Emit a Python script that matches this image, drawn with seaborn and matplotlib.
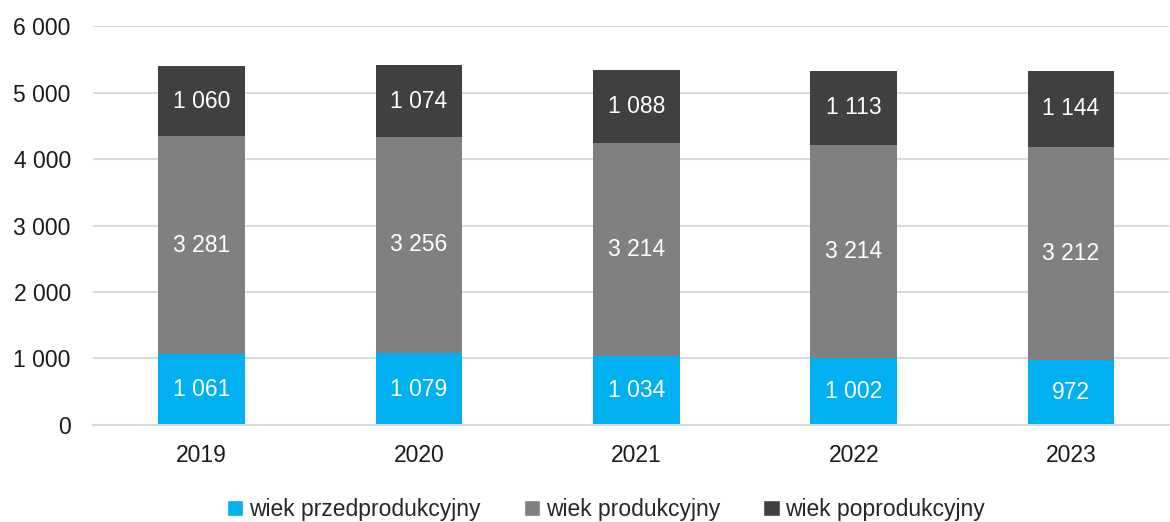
import numpy as np
import pandas as pd
import seaborn as sns
import matplotlib.pyplot as plt
from matplotlib.patches import Patch

years = ['2019', '2020', '2021', '2022', '2023']
przed = [1061, 1079, 1034, 1002, 972]
prod = [3281, 3256, 3214, 3214, 3212]
poprod = [1060, 1074, 1088, 1113, 1144]

names = ['wiek przedprodukcyjny', 'wiek produkcyjny', 'wiek poprodukcyjny']
colors = ['#00B0F0', '#808080', '#404040']

sns.set_theme(style='white')
plt.rcParams['font.family'] = ['Liberation Sans', 'DejaVu Sans']

df = pd.DataFrame({'rok': years, 'przed': przed, 'prod': prod, 'poprod': poprod})
df['c1'] = df['przed']
df['c2'] = df['przed'] + df['prod']
df['c3'] = df['c2'] + df['poprod']

fig, ax = plt.subplots(figsize=(11.7, 5.22), dpi=100)
fig.subplots_adjust(left=0.0795, right=0.999, top=0.95, bottom=0.186)

# stacked look: draw cumulative totals, largest first
for col, c in zip(['c3', 'c2', 'c1'], colors[::-1]):
    sns.barplot(data=df, x='rok', y=col, color=c, width=0.4, saturation=1,
                linewidth=0, edgecolor='none', ax=ax, zorder=2)

def fmt(v):
    return f'{v:,}'.replace(',', ' ')

for i, row in df.iterrows():
    for lo, val in [(0, row['przed']), (row['c1'], row['prod']), (row['c2'], row['poprod'])]:
        ax.text(i, lo + val / 2, fmt(val), ha='center', va='center', color='white', fontsize=16.5, zorder=3)

ax.set_ylim(0, 6000)
ax.set_xlim(-0.5, 4.45)
ax.set_yticks(range(0, 6001, 1000))
ax.set_yticklabels([fmt(v) for v in range(0, 6001, 1000)])
ax.yaxis.grid(True, color='#d9d9d9', linewidth=1.5, zorder=0)
ax.set_axisbelow(True)
for s in ['top', 'right', 'left']:
    ax.spines[s].set_visible(False)
ax.spines['bottom'].set_color('#d9d9d9')
ax.spines['bottom'].set_linewidth(1.5)
ax.tick_params(axis='both', length=0, labelsize=16.5, colors='#1a1a1a')
ax.tick_params(axis='x', pad=14)
ax.tick_params(axis='y', pad=16)
ax.set_xlabel('')
ax.set_ylabel('')

handles = [Patch(facecolor=c, label=n) for c, n in zip(colors, names)]
fig.legend(handles=handles, loc='lower center', ncol=3, frameon=False, fontsize=16.5,
           bbox_to_anchor=(0.518, -0.038), handlelength=0.7, handleheight=0.7,
           handletextpad=0.25, columnspacing=1.9)

fig.savefig('out.png', dpi=100)
